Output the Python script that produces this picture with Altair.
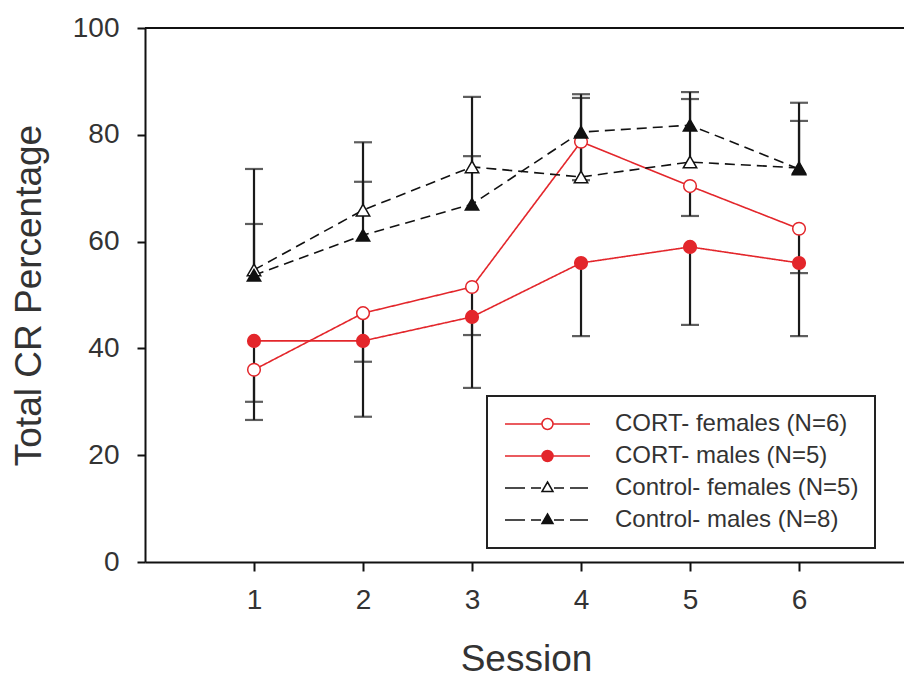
import altair as alt
import pandas as pd

# ---------------- data ----------------
sessions = [1, 2, 3, 4, 5, 6]
groups = ["CORT- females (N=6)", "CORT- males (N=5)",
          "Control- females (N=5)", "Control- males (N=8)"]

cort_f_mean = [36.0, 46.6, 51.5, 78.7, 70.4, 62.4]
cort_m_mean = [41.4, 41.4, 45.9, 56.0, 59.0, 56.0]
ctrl_f_mean = [54.7, 65.9, 74.0, 72.1, 74.9, 73.8]
ctrl_m_mean = [53.7, 61.2, 67.0, 80.5, 81.8, 73.6]

cort_f_sem = [6.0, 9.1, 9.0, 7.2, 5.6, 8.3]
cort_m_sem = [14.8, 14.2, 13.3, 13.7, 14.6, 13.7]
ctrl_f_sem = [18.9, 12.7, 13.1, 15.5, 13.1, 12.2]
ctrl_m_sem = [9.6, 10.0, 9.0, 6.4, 4.9, 9.0]

# error bars are drawn one-sided: CORT downward, Control upward
bar_direction = [-1, -1, 1, 1]

x_ticks = [1, 2, 3, 4, 5, 6]
y_ticks = [0, 20, 40, 60, 80, 100]

means = [cort_f_mean, cort_m_mean, ctrl_f_mean, ctrl_m_mean]
sems = [cort_f_sem, cort_m_sem, ctrl_f_sem, ctrl_m_sem]

rows = []
for g, m, s, d in zip(groups, means, sems, bar_direction):
    for ses, mv, sv in zip(sessions, m, s):
        rows.append({"session": ses, "group": g, "mean": mv, "sem": sv,
                     "bound": mv + d * sv})
df = pd.DataFrame(rows)

# ---------------- styles ----------------
RED = "#e3262b"
BLACK = "#111111"
FONT = "Liberation Sans"
TXT = "#333333"

line_colors = [RED, RED, BLACK, BLACK]
line_dash = [[1, 0], [1, 0], [10, 6], [10, 6]]
pt_shapes = ["circle", "circle", "triangle-up", "triangle-up"]
pt_fill = ["white", RED, "white", BLACK]
pt_stroke = [RED, RED, BLACK, BLACK]
pt_size = [160, 160, 180, 180]

xaxis = alt.Axis(values=x_ticks, title="Session", grid=False,
                 titleFont=FONT, titleFontSize=37, titleFontWeight="normal",
                 titleColor=TXT, titleX=381, titleY=108, titleBaseline="alphabetic",
                 labelFont=FONT, labelFontSize=28, labelColor=TXT, labelPadding=15,
                 labelFlush=False, tickSize=9, tickWidth=2, tickColor=BLACK,
                 domainColor=BLACK, domainWidth=2)
yaxis = alt.Axis(values=y_ticks, title="Total CR Percentage", grid=False,
                 titleFont=FONT, titleFontSize=37, titleFontWeight="normal",
                 titleColor=TXT, titleX=-105, titleY=267, titleAngle=270,
                 titleBaseline="alphabetic", titleAlign="center",
                 labelFont=FONT, labelFontSize=28, labelColor=TXT, labelPadding=18,
                 tickSize=8, tickWidth=2, tickColor=BLACK,
                 domainColor=BLACK, domainWidth=2)
xscale = alt.Scale(domain=[0, 6.963], nice=False, zero=False)
yscale = alt.Scale(domain=[0, 100], nice=False)


def X():
    return alt.X("session:Q", scale=xscale, axis=xaxis)


def Y(field):
    return alt.Y(f"{field}:Q", scale=yscale, axis=yaxis)


base = alt.Chart(df)

top_line = base.mark_rule(color=BLACK, strokeWidth=2).encode(
    y=alt.Y(datum=100, type="quantitative", scale=yscale, axis=yaxis))

err_rule = base.mark_rule(color="#1a1a1a", strokeWidth=2.2).encode(
    x=X(), y=Y("mean"), y2="bound:Q")
err_cap = base.mark_tick(color="#1a1a1a", thickness=2.2, size=18,
                         orient="horizontal").encode(x=X(), y=Y("bound"))

layers = [top_line, err_rule, err_cap]
for i, g in enumerate(groups):
    layers.append(
        base.transform_filter(alt.datum.group == g)
        .mark_line(color=line_colors[i], strokeWidth=1.6, strokeDash=line_dash[i])
        .encode(x=X(), y=Y("mean"))
    )
for i, g in enumerate(groups):
    layers.append(
        base.transform_filter(alt.datum.group == g)
        .mark_point(shape=pt_shapes[i], fill=pt_fill[i], stroke=pt_stroke[i],
                    size=pt_size[i], strokeWidth=1.5, opacity=1, filled=True)
        .encode(x=X(), y=Y("mean"))
    )

# legend symbols: line + marker drawn as custom symbol paths
circ = "M2.7,0A0.55,0.55 0 1,1 3.8,0A0.55,0.55 0 1,1 2.7,0Z"
tri = "M3.25,-0.6L3.8,0.35L2.7,0.35Z"
legend_paths = [
    "M-1,0H2.7M3.8,0H7.5" + circ,
    "M-1,0H2.7M3.8,0H7.5" + circ,
    "M-1,0H1M1.6,0H2.6M3.9,0H4.9M5.5,0H7.3" + tri,
    "M-1,0H1M1.6,0H2.6M3.9,0H4.9M5.5,0H7.3" + tri,
]
leg = alt.Legend(title=None, orient="none", legendX=342, legendY=368,
                 symbolSize=400, symbolStrokeWidth=1.5, symbolOpacity=1,
                 labelFont=FONT, labelFontSize=24, labelColor=TXT, labelLimit=500,
                 labelOffset=88, rowPadding=8, padding=16,
                 strokeColor="#222222")
legend_layer = base.mark_point(opacity=0, filled=True).encode(
    x=X(), y=Y("mean"),
    shape=alt.Shape("group:N", scale=alt.Scale(domain=groups, range=legend_paths), legend=leg),
    fill=alt.Fill("group:N", scale=alt.Scale(domain=groups, range=pt_fill), legend=leg),
    stroke=alt.Stroke("group:N", scale=alt.Scale(domain=groups, range=pt_stroke), legend=leg),
)
layers.append(legend_layer)

chart = alt.layer(*layers).properties(
    width=759, height=534,
    autosize=alt.AutoSizeParams(type="none"),
    padding={"left": 145, "top": 28, "right": 0, "bottom": 118},
    background="white",
).configure_view(stroke=None).configure_legend(strokeWidth=2)

chart.save("out.html", embed_options={"renderer": "svg", "actions": False})
